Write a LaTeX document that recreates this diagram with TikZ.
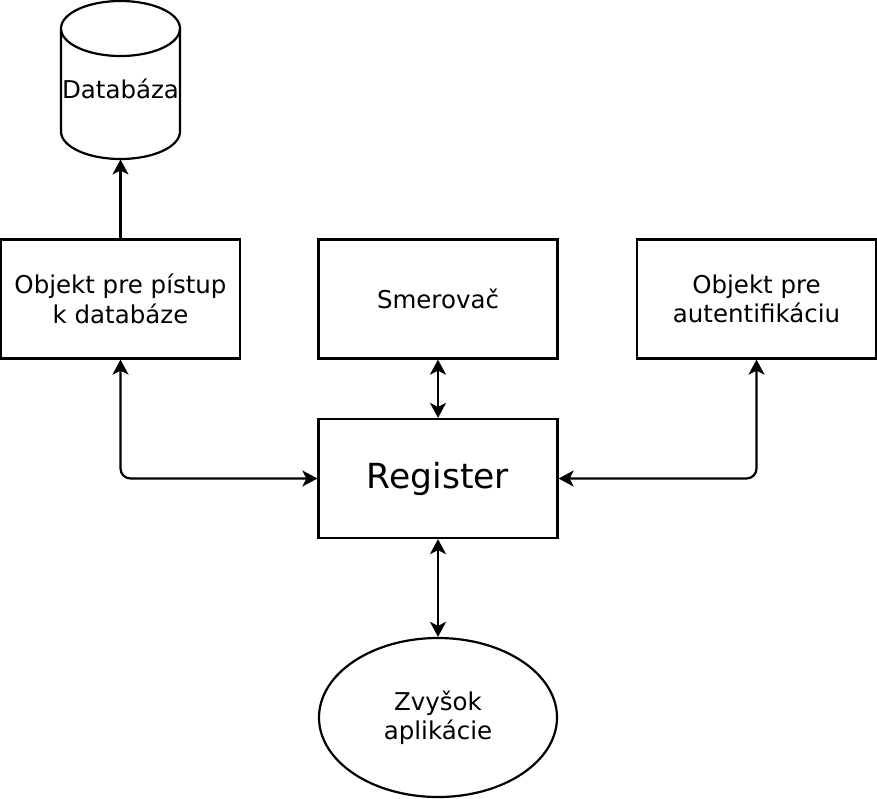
\documentclass[tikz,border=0pt]{standalone}
\usepackage{fontspec}
\setmainfont{DejaVu Sans}
\usetikzlibrary{arrows.meta,shapes.geometric}
\begin{document}
\begin{tikzpicture}[x=1pt,y=-1pt,
  ln/.style={line width=2.2pt,black},
  box/.style={draw,ln,rectangle,minimum width=239pt,minimum height=119pt,inner sep=0pt,align=center,font=\fontsize{24.5}{29.5}\selectfont},
  conn/.style={ln,{Stealth[length=15pt,width=16pt,inset=4pt]}-{Stealth[length=15pt,width=16pt,inset=4pt]}},
]
\useasboundingbox (0,0) rectangle (877,798);
% cylinder
\fill[white] (61,28.5) -- (61,131.5) arc[start angle=180,end angle=0,x radius=59.5,y radius=27.5] -- (180,28.5) arc[start angle=0,end angle=-180,x radius=59.5,y radius=27.5] -- cycle;
\draw[ln] (120.5,28.5) ellipse[x radius=59.5,y radius=27.5];
\draw[ln] (61,28.5) -- (61,131.5) arc[start angle=180,end angle=0,x radius=59.5,y radius=27.5] -- (180,28.5);
\node[anchor=base,font=\fontsize{24.5}{29.5}\selectfont,inner sep=0pt] (db) at (120.5,98) {Databáza};
\coordinate (dbbot) at (120.5,159.5);

\node[box] (dbo) at (120.5,299) {Objekt pre pístup\\k databáze};
\node[box] (router) at (438,299) {Smerovač};
\node[box] (auth) at (756.5,299) {Objekt pre\\autentifikáciu};
\node[box,font=\fontsize{34.5}{40}\selectfont] (reg) at (438,478.5) {Register};
\node[draw,ln,ellipse,minimum width=238pt,minimum height=159pt,inner sep=0pt,align=center,font=\fontsize{24.5}{29.5}\selectfont] (rest) at (438,717.5) {Zvyšok\\aplikácie};

\draw[ln,-{Stealth[length=15pt,width=16pt,inset=4pt]}] (dbo.north) -- (dbbot);
\draw[conn] (router.south) -- (reg.north);
\draw[conn] (reg.south) -- (rest.north);
\draw[conn,rounded corners=10pt] (dbo.south) |- (reg.west);
\draw[conn,rounded corners=10pt] (auth.south) |- (reg.east);
\end{tikzpicture}
\end{document}
